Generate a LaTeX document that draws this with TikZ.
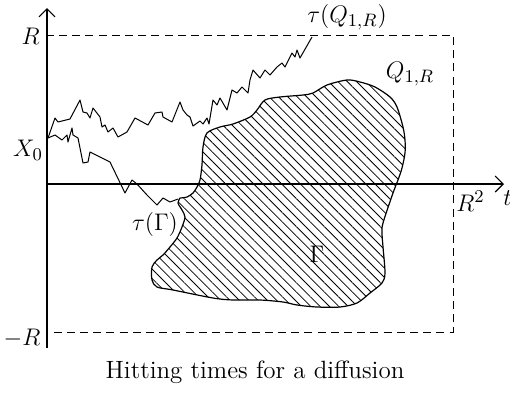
\documentclass[tikz,border=0pt]{standalone}
\usepackage{amsmath}
\usetikzlibrary{arrows.meta}
\usetikzlibrary{patterns.meta}
\def\boxL{47}
\def\boxR{453}
\def\boxT{35}
\def\boxB{332}
\def\axisY{184}
\tikzset{
  axis/.style={line width=0.55pt, -{Straight Barb[length=4pt,width=8pt,line width=0.55pt]}},
  path/.style={line width=0.5pt, line join=round},
  lab/.style={inner sep=0pt, font=\fontsize{12.5}{15}\selectfont}
}

\begin{document}
\begin{tikzpicture}[x=0.5pt, y=-0.5pt]
	\useasboundingbox (0,0) rectangle (510,397);
	% the box Q_{1,R}
	\draw[dashed, dash pattern=on 4pt off 2.6pt, line width=0.5pt] (\boxL,\boxT) rectangle (\boxR,\boxB);
	% the region Gamma
	\draw[line width=0.6pt, pattern={Lines[angle=-45, distance=3.3pt, line width=0.4pt]}]
		plot[smooth, tension=0.5] coordinates {
		(180,198) (187,197) (193,193) (197,187) (200,180) (202,165) (203,147) (207,133)
		(220,127) (233,124) (250,117) (257,110) (265,100) (280,97) (303,95) (313,93)
		(327,85) (347,80) (360,82) (375,87) (390,97) (397,107) (403,127) (405,140)
		(405,153) (402,168) (398,180) (393,193) (383,223) (382,233) (383,247) (385,273)
		(382,283) (370,293) (357,303) (340,307) (317,307) (297,305) (283,302) (260,300)
		(233,300) (213,298) (173,290) (157,287) (152,280) (152,267) (157,260) (163,255)
		(170,247) (177,238) (182,227) (185,217) (182,210) (178,203) (180,198)};
	% axes
	\draw[axis] (\boxL,348) -- (\boxL,8);
	\draw[axis] (\boxL,\axisY) -- (504,\axisY);
	% sample paths from X_0
	\coordinate (x0) at (48,138);
	\draw[path] (x0) -- (55,118) -- (58,122) -- (70,119) -- (80,100) -- (83,112) -- (87,113)
		-- (90,118) -- (93,108) -- (100,117) -- (102,127) -- (105,125) -- (108,132) -- (113,128)
		-- (118,137) -- (127,132) -- (135,118) -- (148,125) -- (155,113) -- (162,112) -- (163,117)
		-- (172,122) -- (180,102) -- (183,110) -- (187,115) -- (190,117) -- (193,126) -- (200,121)
		-- (203,124) -- (207,118) -- (209,124) -- (213,100) -- (217,105) -- (220,98) -- (227,110)
		-- (232,90) -- (237,93) -- (242,87) -- (248,93) -- (250,80) -- (253,70) -- (260,78)
		-- (265,70) -- (270,75) -- (277,67) -- (282,63) -- (285,67) -- (292,53) -- (295,57)
		-- (297,50) -- (300,58) -- (312,37);
	\draw[path] (x0) -- (55,135) -- (62,140) -- (67,135) -- (68,142) -- (72,128) -- (73,135)
		-- (78,138) -- (83,163) -- (88,162) -- (90,152) -- (110,162) -- (125,193) -- (132,180)
		-- (137,184) -- (147,195) -- (157,205) -- (163,198) -- (170,202) -- (178,199);
	% labels
	\node[lab, anchor=east] (rtop) at (40,36) {$R$};
	\node[lab] (xzero) at (28,150) {$X_0$};
	\node[lab] (rbot) at (22,338) {$-R$};
	\node[lab] (tauq) at (347,17) {$\tau(Q_{1,R})$};
	\node[lab] (qbox) at (410,74) {$Q_{1,R}$};
	\node[lab, anchor=west] (rsq) at (456,201) {$R^2$};
	\node[lab, anchor=west] (tlab) at (503,198) {$t$};
	\node[lab] (taug) at (155,224) {$\tau(\Gamma)$};
	\node[lab] (gam) at (317,254) {$\Gamma$};
	\node[lab] (cap) at (255,372) {Hitting times for a diffusion};
\end{tikzpicture}
\end{document}
